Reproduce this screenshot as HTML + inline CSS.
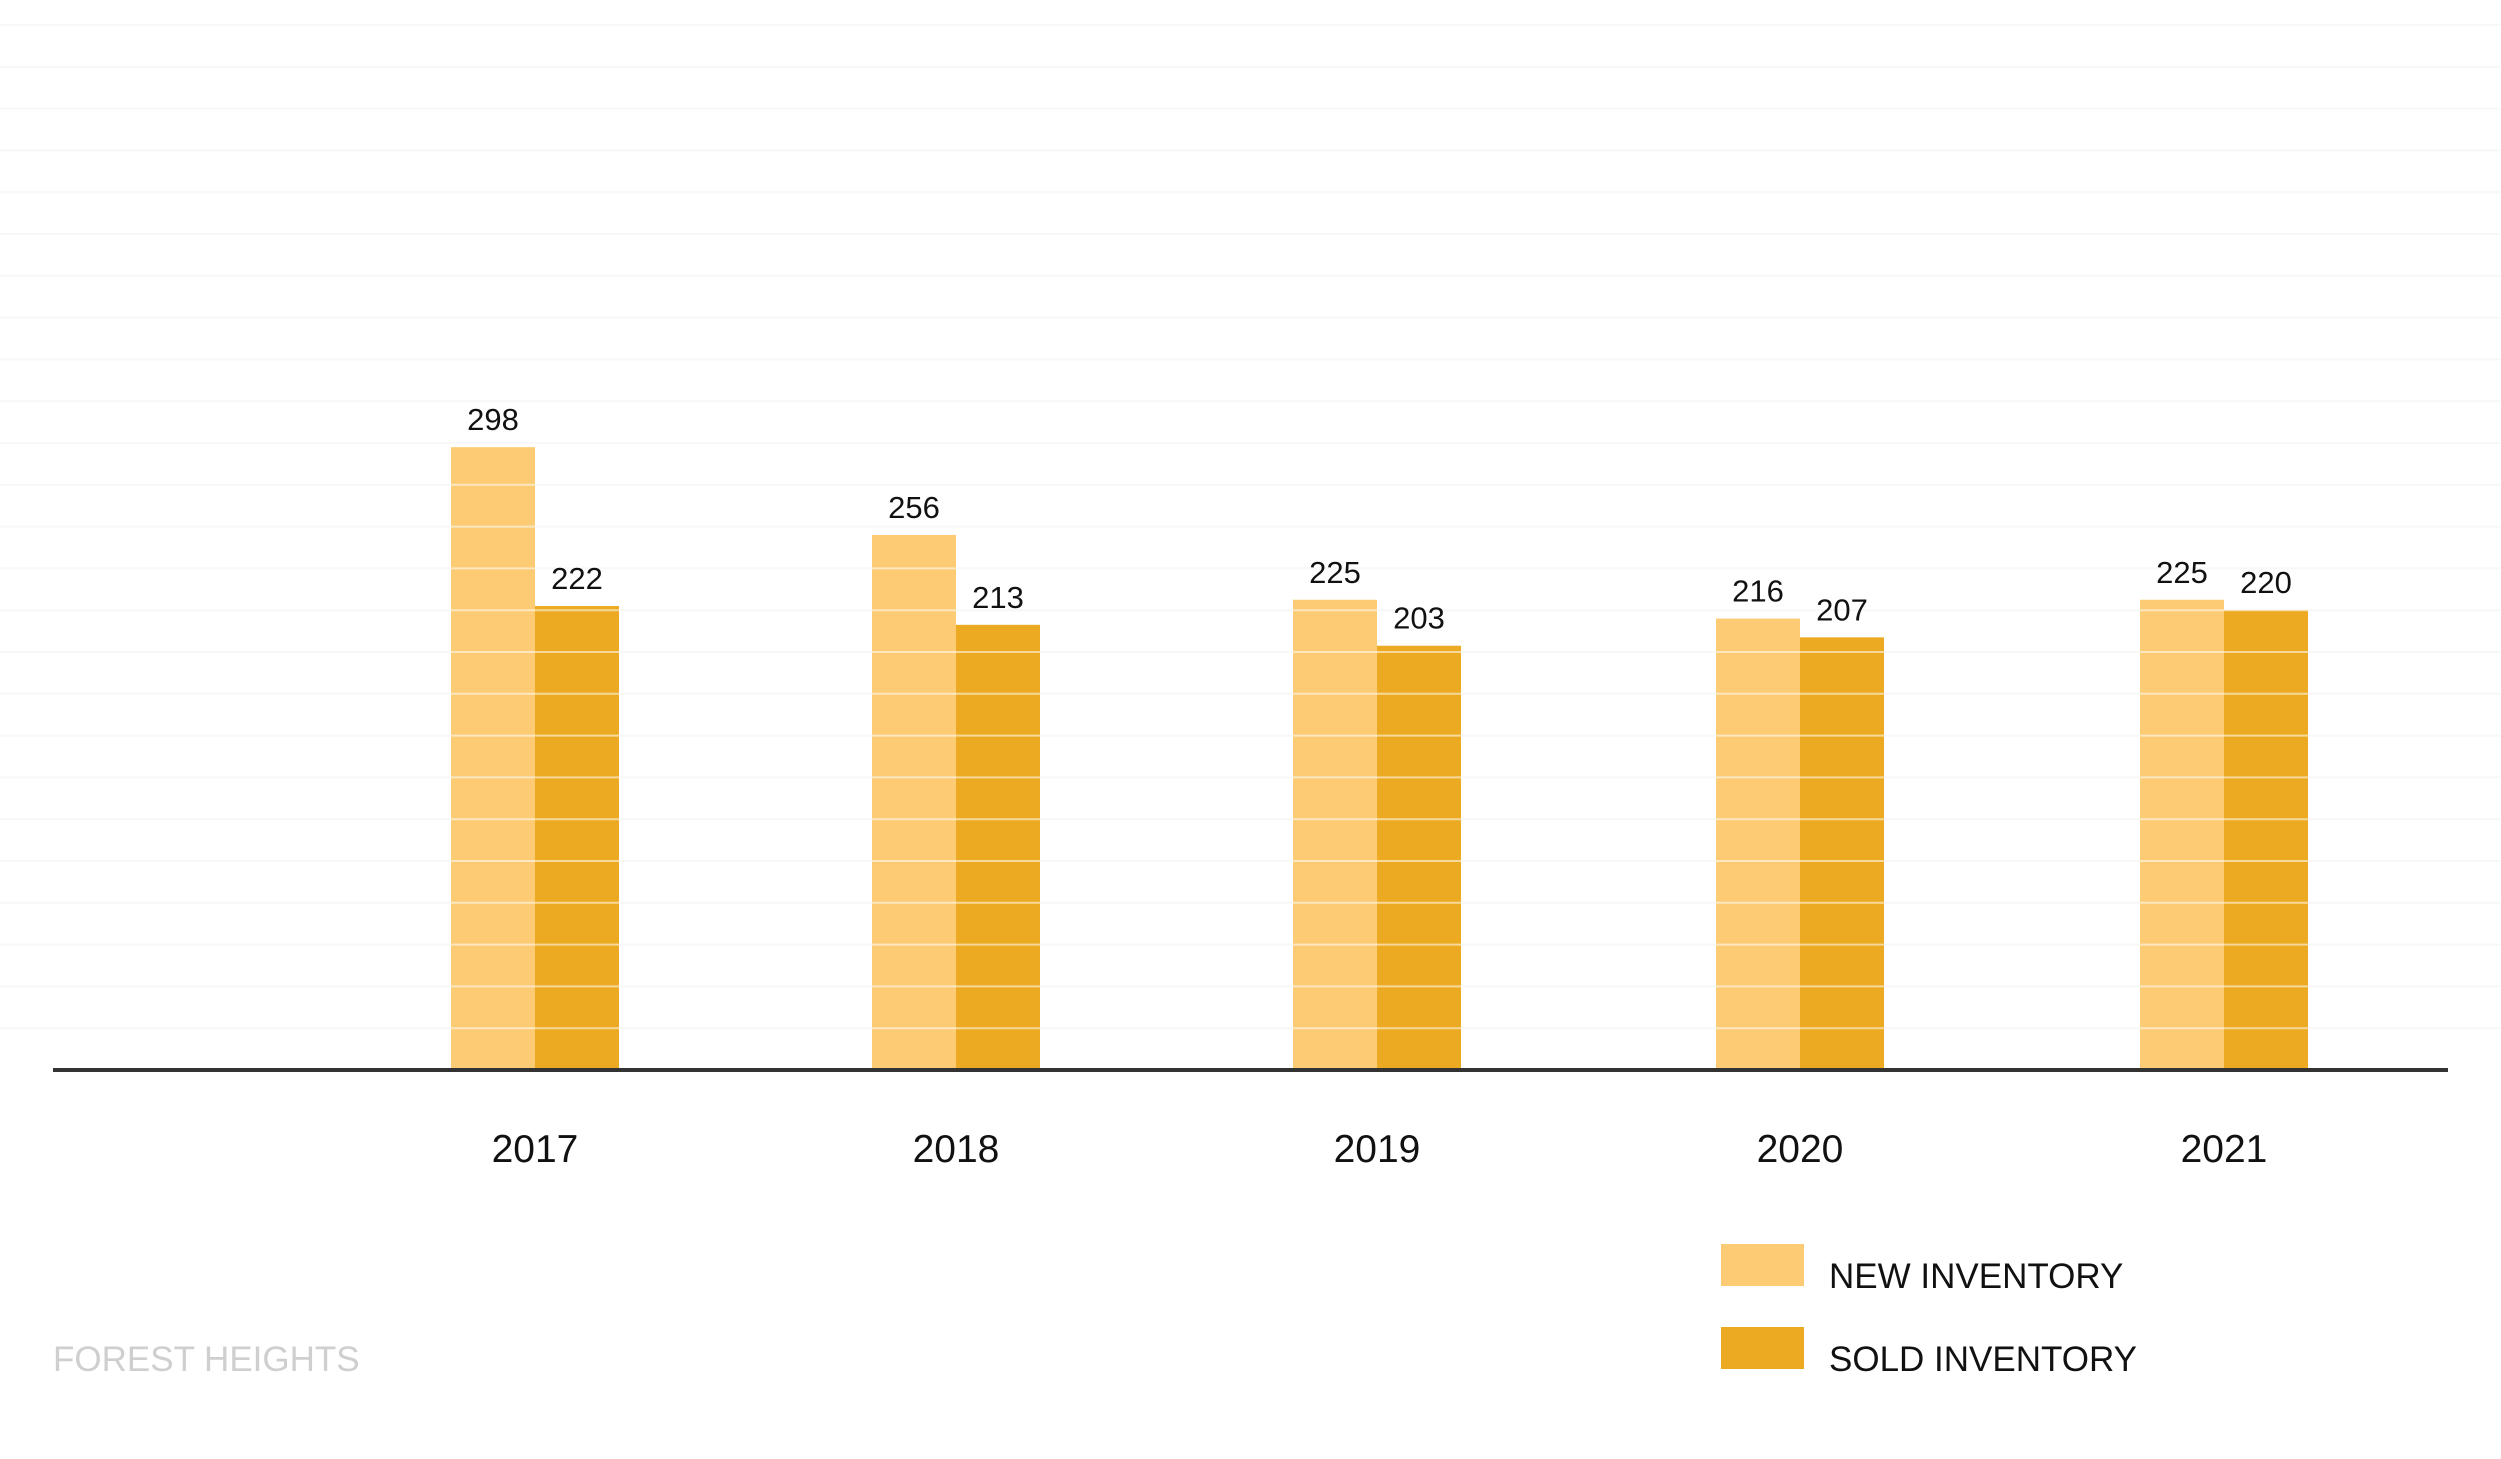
<!DOCTYPE html>
<html><head><meta charset="utf-8"><style>
html,body{margin:0;padding:0;background:#fff;}
svg{display:block;font-family:"Liberation Sans",sans-serif;}
</style></head><body>
<svg id="chart" width="2501" height="1459" viewBox="0 0 2501 1459" xmlns="http://www.w3.org/2000/svg">
<g id="gridBelow"></g>
<g id="bars"></g>
<g id="gridAbove"></g>
<g id="labels"></g>
<line x1="53" y1="1070" x2="2448" y2="1070" stroke="#333" stroke-width="4"/>
<g id="xticks"></g>
<rect x="1721" y="1244" width="83" height="42" fill="#fccb74"/>
<text x="1829" y="1288" font-size="35" fill="#111">NEW INVENTORY</text>
<rect x="1721" y="1327" width="83" height="42" fill="#ebaa21"/>
<text x="1829" y="1371" font-size="35" fill="#111">SOLD INVENTORY</text>
<text x="53" y="1371" font-size="35" fill="#cfcfcf">FOREST HEIGHTS</text>
</svg>
<script>
const categories = ["2017","2018","2019","2020","2021"];
const newInventory = [298,256,225,216,225];
const soldInventory = [222,213,203,207,220];
const gridStep = 20;
const gridMax = 500;

const NS = "http://www.w3.org/2000/svg";
const baseY = 1070, pxPerUnit = 2.09, barW = 84;
const groupLeft = [451, 872, 1293, 1716, 2140];
function y(v){ return baseY - v*pxPerUnit; }
function xGroup(i){ return groupLeft[i]; }
function mk(tag, attrs){ const e=document.createElementNS(NS,tag); for(const k in attrs) e.setAttribute(k,attrs[k]); return e; }

const gb=document.getElementById('gridBelow'), ga=document.getElementById('gridAbove');
for(let v=gridStep; v<=gridMax; v+=gridStep){
  const l=mk('line',{x1:0,x2:2501,y1:y(v),y2:y(v),stroke:'#f0f0f0','stroke-width':2});
  
  
  gb.appendChild(l);
  const l2=mk('line',{x1:0,x2:2501,y1:y(v),y2:y(v),stroke:'rgba(255,255,255,0.55)','stroke-width':2});
  
  
  ga.appendChild(l2);
}
const bars=document.getElementById('bars'), labels=document.getElementById('labels'), xt=document.getElementById('xticks');
categories.forEach((c,i)=>{
  const x0=xGroup(i);
  [[newInventory[i],'#fccb74',x0,'bar-new-'+c],[soldInventory[i],'#ebaa21',x0+barW,'bar-sold-'+c]].forEach(([v,col,x,name])=>{
    const r=mk('rect',{x:x,y:y(v),width:barW,height:v*pxPerUnit,fill:col});
    
    
    bars.appendChild(r);
    const t=mk('text',{x:x+barW/2,y:y(v)-17,'text-anchor':'middle','font-size':31,fill:'#111'});
    t.textContent=v;
    
    
    labels.appendChild(t);
  });
  const t=mk('text',{x:x0+barW,y:1162,'text-anchor':'middle','font-size':39,fill:'#111'});
  t.textContent=c;
  
  
  xt.appendChild(t);
});
</script>
</body></html>
